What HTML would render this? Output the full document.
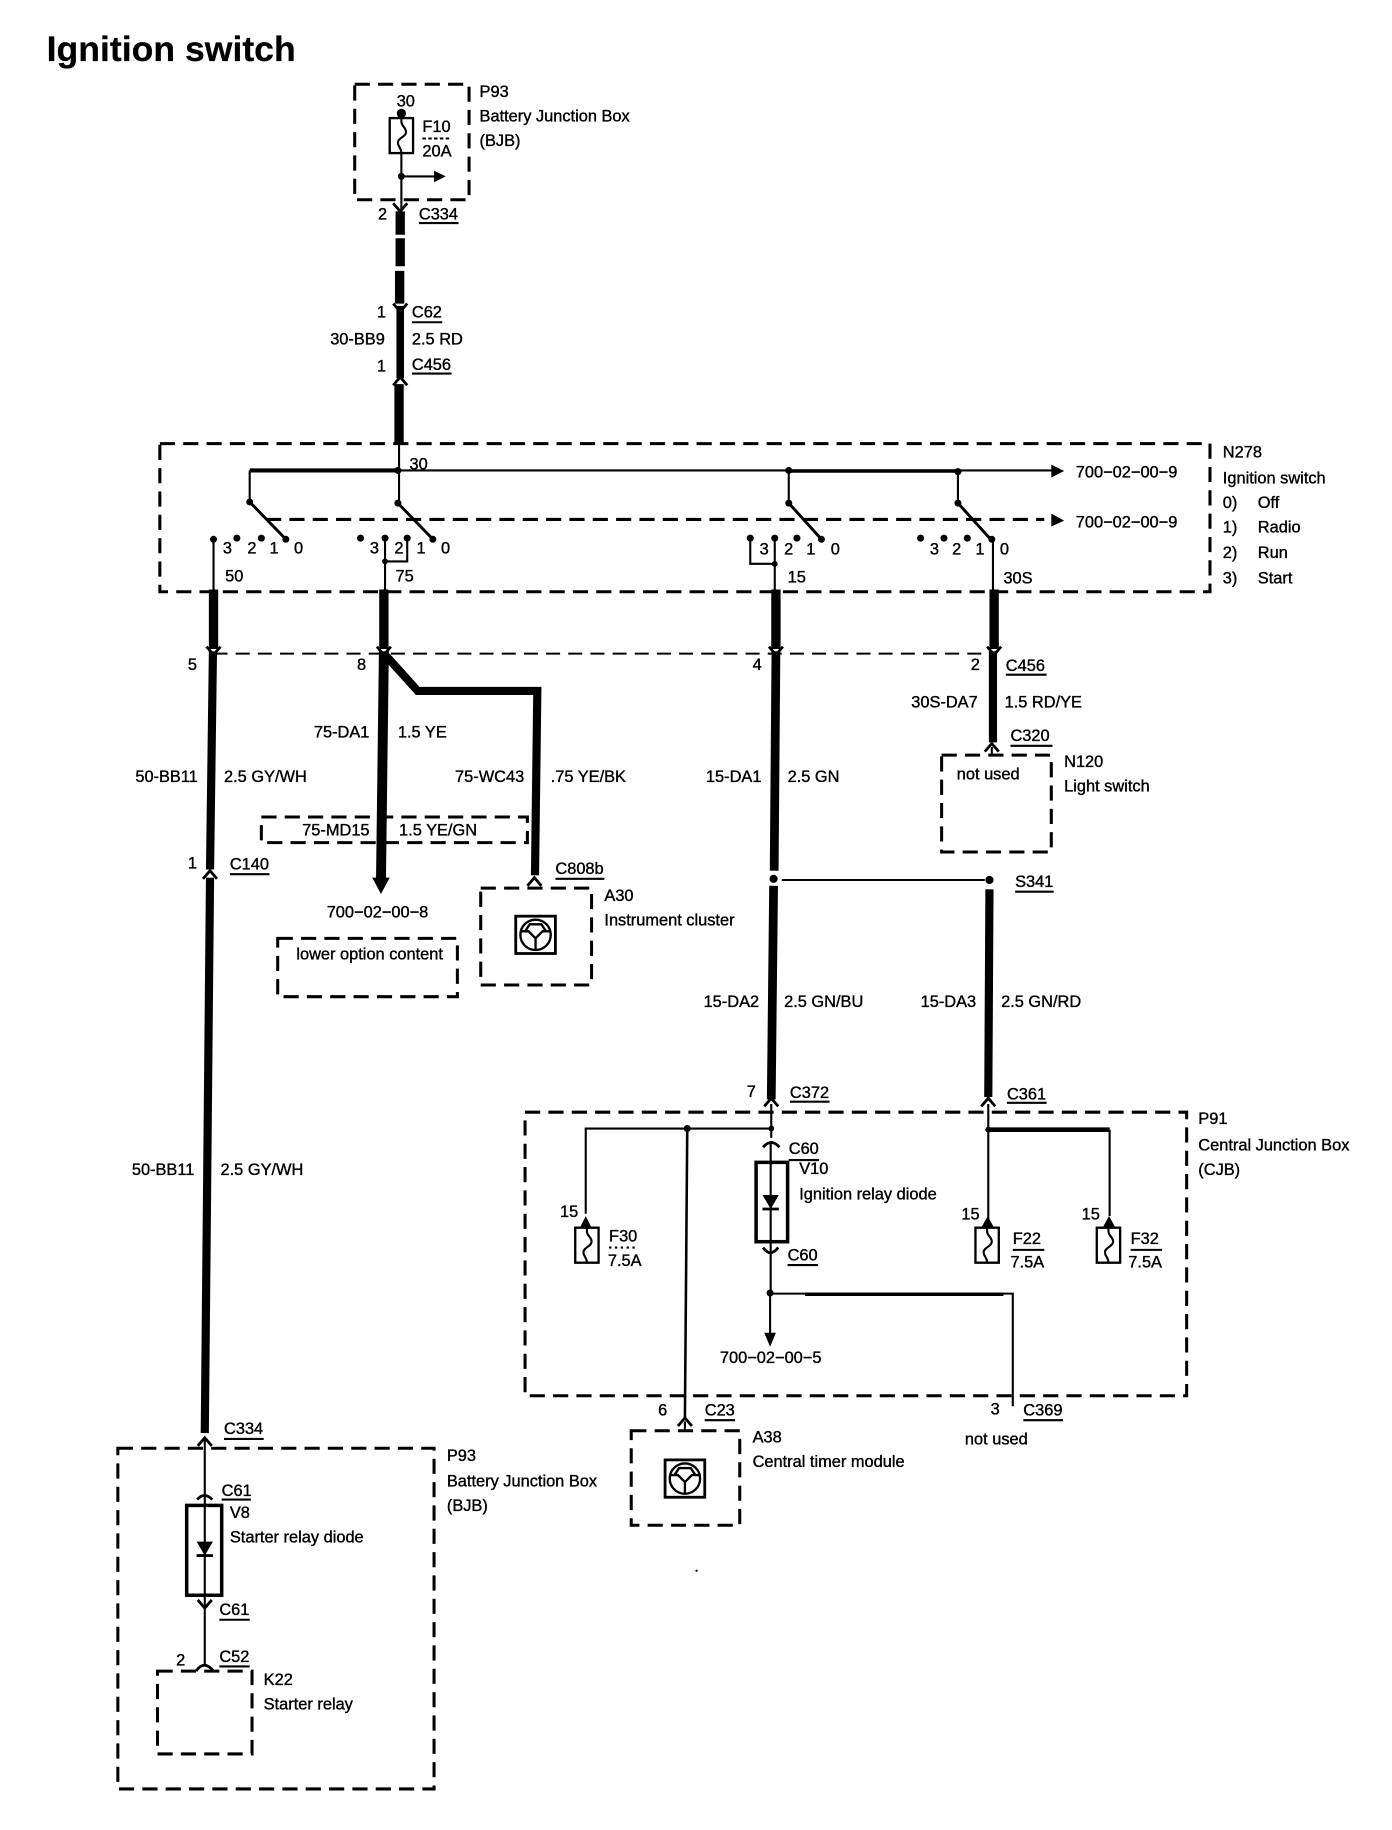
<!DOCTYPE html>
<html><head><meta charset="utf-8"><style>
html,body{margin:0;padding:0;background:#fff}
svg{display:block}
text{font-family:"Liberation Sans",sans-serif;font-size:14.05px;fill:#000;stroke:#000;stroke-width:.32}
.d{fill:none;stroke:#000;stroke-width:2.6;stroke-dasharray:13 7}
.t{fill:none;stroke:#000;stroke-width:1.8}
.w{fill:none;stroke:#000}
.f{fill:none;stroke:#000;stroke-width:2.4}
</style></head><body>
<svg width="1392" height="1830" viewBox="0 0 1193 1568" xmlns="http://www.w3.org/2000/svg">
<defs>
<g id="fd"><path d="M-6 -4L0 3L6 -4" class="f"/></g>
<g id="au"><path d="M-6 4L0 -3L6 4" class="f"/></g>
<g id="fuse"><rect x="-10" y="0" width="20" height="30" fill="#fff" stroke="#000" stroke-width="2"/><path d="M0 -6V3C0 7 4 8 4 12S-3 17 -3 21S0 25 0 30" class="t"/></g>
<g id="icon"><rect x="-17" y="-16" width="34" height="32" fill="none" stroke="#000" stroke-width="2.4"/><circle r="13" fill="none" stroke="#000" stroke-width="2"/><path d="M-12 -3H-6L0 3V13M12 -3H6L0 3M-9 -3L-5 -9H5L9 -3" fill="none" stroke="#000" stroke-width="2"/></g>
<g id="dio"><path d="M-7 -6H7L0 6Z" fill="#000"/><path d="M-7 6H7" class="f"/></g>
</defs>
<text x="40" y="52" style="font-size:30.5px;font-weight:bold;stroke-width:.2">Ignition switch</text>

<!-- top P93 -->
<rect x="304" y="72" width="98" height="99" class="d"/>
<text x="411" y="83">P93</text><text x="411" y="104">Battery Junction Box</text><text x="411" y="125">(BJB)</text>
<text x="340" y="91">30</text><circle cx="344" cy="97" r="4"/>
<path d="M344 97V180" class="t"/><use href="#fuse" x="344" y="101"/>
<text x="362" y="113">F10</text><path d="M362 118.500H386" class="t" stroke-dasharray="3 2"/><text x="362" y="134">20A</text>
<circle cx="344" cy="151" r="3"/><path d="M344 151H375" class="t"/><path d="M372 146L382 151L372 156Z"/>
<use href="#fd" x="343" y="178"/>
<text x="324" y="188">2</text><text x="359" y="188">C334</text><path d="M359 191H393" class="t"/>
<path d="M343 181V201M343 204V228M342.500 232V260" class="w" stroke-width="8"/>
<use href="#fd" x="343" y="264"/>
<text x="323" y="272">1</text><text x="353" y="272">C62</text><path d="M353 276H379" class="t"/>
<text x="283" y="295">30-BB9</text><text x="353" y="295">2.5 RD</text>
<text x="323" y="318">1</text><text x="353" y="317">C456</text><path d="M353 320H387" class="t"/>
<path d="M343 262V324" class="w" stroke-width="6.500"/><use href="#au" x="343" y="326"/>
<path d="M342 329V381" class="w" stroke-width="8"/>

<!-- N278 -->
<rect x="137" y="380" width="900" height="127" class="d"/>
<text x="1048" y="392">N278</text><text x="1048" y="414">Ignition switch</text>
<text x="1048" y="435">0)</text><text x="1078" y="435">Off</text>
<text x="1048" y="456">1)</text><text x="1078" y="456">Radio</text>
<text x="1048" y="478">2)</text><text x="1078" y="478">Run</text>
<text x="1048" y="500">3)</text><text x="1078" y="500">Start</text>
<text x="351" y="402">30</text>
<path d="M342 380V431" class="t"/><circle cx="341" cy="403" r="3"/>
<path d="M214 403H342" class="w" stroke-width="3.500"/><path d="M342 403H903" class="t"/><path d="M675 403.500H820" class="w" stroke-width="3"/>
<path d="M901 398L912 403.500L901 409Z"/><text x="922" y="409">700−02−00−9</text>
<path d="M228 445H895" class="d" stroke-width="2.200"/>
<path d="M901 440L912 446L901 451Z"/><text x="922" y="452">700−02−00−9</text>
<path d="M214 403V430M676 403V431M821 403V431" class="t"/>
<circle cx="676" cy="403" r="3"/><circle cx="821" cy="404" r="3"/>
<g class="w" stroke-width="2.500" fill="none"><path d="M214 430L245 462"/><path d="M341 431L371 462"/><path d="M676 431L704 462"/><path d="M821 431L849 462"/></g>
<g>
<circle cx="214" cy="430" r="3"/><circle cx="341" cy="431" r="3"/><circle cx="676" cy="431" r="3"/><circle cx="821" cy="431" r="3"/>
<circle cx="183" cy="462" r="3"/><circle cx="203" cy="461" r="3"/><circle cx="224" cy="461" r="3"/><circle cx="245" cy="462" r="3"/>
<circle cx="309" cy="461" r="3"/><circle cx="330" cy="461" r="3"/><circle cx="349" cy="461" r="3"/><circle cx="371" cy="462" r="3"/>
<circle cx="643" cy="461" r="3"/><circle cx="664" cy="461" r="3"/><circle cx="683" cy="461" r="3"/><circle cx="704" cy="462" r="3"/>
<circle cx="789" cy="461" r="3"/><circle cx="809" cy="461" r="3"/><circle cx="829" cy="461" r="3"/><circle cx="850" cy="462" r="3"/>
</g>
<text x="191" y="474">3</text><text x="212" y="474">2</text><text x="231" y="474">1</text><text x="252" y="474">0</text>
<text x="317" y="474">3</text><text x="338" y="474">2</text><text x="357" y="474">1</text><text x="378" y="474">0</text>
<text x="651" y="475">3</text><text x="672" y="475">2</text><text x="691" y="475">1</text><text x="712" y="475">0</text>
<text x="797" y="475">3</text><text x="816" y="475">2</text><text x="836" y="475">1</text><text x="857" y="475">0</text>
<text x="193" y="498">50</text><text x="339" y="498">75</text><text x="675" y="499">15</text><text x="860" y="500">30S</text>
<path d="M183 462V507M330 461V507M664 461V507M851 462V507M349 461V481H330M643 461V483H664" class="t"/><circle cx="330" cy="481" r="2.500"/><circle cx="664" cy="483" r="2.500"/>

<!-- main harness -->
<path d="M183 505V556M329 505V556M665 505V556M852 505V556" class="w" stroke-width="8"/>
<path d="M183 560H852" class="t" stroke-width="1.500" stroke-dasharray="12 7"/>
<use href="#fd" x="183" y="558"/><use href="#fd" x="329" y="558"/><use href="#fd" x="665" y="558"/><use href="#fd" x="852" y="558"/>
<text x="161" y="574">5</text><text x="306" y="574">8</text><text x="645" y="574">4</text><text x="832" y="574">2</text>
<text x="862" y="575">C456</text><path d="M862 578H897" class="t"/>

<path d="M182.500 558L180 745" class="w" stroke-width="7"/><use href="#au" x="180" y="749"/>
<path d="M180 752L175.500 1228" class="w" stroke-width="7"/>
<text x="161" y="744">1</text><text x="197" y="745">C140</text><path d="M197 749H231" class="t"/>
<text x="116" y="670">50-BB11</text><text x="192" y="670">2.5 GY/WH</text>
<text x="113" y="1007">50-BB11</text><text x="189" y="1007">2.5 GY/WH</text>

<path d="M329 558L326.500 755" class="w" stroke-width="8.500"/><path d="M319 752H334L326.500 766Z"/>
<path d="M331 562L358 592H460.500L458.500 750" class="w" stroke-width="7"/><use href="#au" x="458" y="755"/>
<text x="269" y="632">75-DA1</text><text x="341" y="632">1.5 YE</text>
<text x="390" y="670">75-WC43</text><text x="472" y="670">.75 YE/BK</text>
<rect x="224" y="700" width="228" height="22" class="d" stroke-width="2"/>
<text x="259" y="716">75-MD15</text><text x="342" y="716">1.5 YE/GN</text>
<text x="280" y="786">700−02−00−8</text>
<rect x="238" y="804" width="154" height="50" class="d" stroke-width="2"/><text x="254" y="822">lower option content</text>
<rect x="412" y="761" width="95" height="83" class="d"/><use href="#icon" x="459" y="801"/>
<text x="476" y="749">C808b</text><path d="M476 753H518" class="t"/>
<text x="518" y="772">A30</text><text x="518" y="793">Instrument cluster</text>

<path d="M665 558L663.500 746" class="w" stroke-width="7.500"/><circle cx="663" cy="753" r="3.500"/>
<path d="M663 759L661 942" class="w" stroke-width="7.500"/><use href="#au" x="661" y="944"/>
<text x="605" y="670">15-DA1</text><text x="675" y="670">2.5 GN</text>
<text x="603" y="863">15-DA2</text><text x="672" y="863">2.5 GN/BU</text>
<text x="640" y="940">7</text><text x="677" y="941">C372</text><path d="M677 944H711" class="t"/>
<path d="M670 754H844" class="t" stroke-width="1.500"/><circle cx="848" cy="754" r="3.500"/>
<text x="870" y="760">S341</text><path d="M870 764H903" class="t"/>
<path d="M848 762L847 940" class="w" stroke-width="7"/><use href="#au" x="847" y="944"/>
<text x="789" y="863">15-DA3</text><text x="858" y="863">2.5 GN/RD</text>
<text x="863" y="942">C361</text><path d="M863 945H897" class="t"/>

<path d="M851 558V636" class="w" stroke-width="7"/><use href="#au" x="850" y="640"/>
<text x="781" y="606">30S-DA7</text><text x="861" y="606">1.5 RD/YE</text>
<text x="866" y="635">C320</text><path d="M866 639H902" class="t"/>
<rect x="807" y="647" width="94" height="83" class="d" stroke-width="2.300"/>
<path d="M850 640V647" class="t"/>
<text x="820" y="668">not used</text><text x="912" y="657">N120</text><text x="912" y="678">Light switch</text>

<!-- P91 -->
<rect x="450" y="953" width="567" height="243" class="d"/>
<text x="1027" y="963">P91</text><text x="1027" y="986">Central Junction Box</text><text x="1027" y="1007">(CJB)</text>
<path d="M661 946V975M661 967H502V1040" class="t"/><circle cx="661" cy="967" r="2.500"/><circle cx="589" cy="967" r="3"/>
<path d="M497 1052L502 1042L507 1052Z"/><text x="480" y="1043">15</text>
<use href="#fuse" x="503" y="1052"/><text x="522" y="1064">F30</text><path d="M522 1069H546" class="t" stroke-dasharray="2 3"/><text x="521" y="1085">7.5A</text>
<path d="M589 967L587 1215" class="w" stroke-width="2.200"/><use href="#au" x="587" y="1218"/>
<path d="M654 983Q661 975 668 983" class="f"/><text x="676" y="989">C60</text><path d="M676 994H702" class="t"/>
<rect x="648" y="996" width="27" height="68" fill="none" stroke="#000" stroke-width="3"/>
<path d="M660.500 980V1108" class="t"/><use href="#dio" x="660.500" y="1030"/>
<text x="685" y="1006">V10</text><text x="685" y="1028">Ignition relay diode</text>
<path d="M654 1069Q660 1078 667 1069" class="f" stroke-width="2.500"/><text x="675" y="1080">C60</text><path d="M675 1084H701" class="t"/>
<circle cx="660" cy="1108" r="3"/><path d="M660 1108V1145" class="t"/><path d="M655 1142H665L660 1154Z"/>
<text x="617" y="1168">700−02−00−5</text>
<path d="M660 1108.500H868V1205" class="t"/><path d="M690 1109H860" class="w" stroke-width="3"/>
<text x="849" y="1212">3</text><text x="877" y="1213">C369</text><path d="M877 1217H911" class="t"/>
<text x="827" y="1238">not used</text>
<text x="564" y="1213">6</text><text x="604" y="1213">C23</text><path d="M604 1217H630" class="t"/>
<rect x="541" y="1226" width="93" height="81" class="d"/><path d="M587 1218V1226" class="t"/>
<use href="#icon" x="587" y="1267"/>
<text x="645" y="1236">A38</text><text x="645" y="1257">Central timer module</text>
<circle cx="597" cy="1346" r="1"/>
<path d="M847 946V1045" class="t"/><circle cx="847" cy="968" r="2.500"/>
<path d="M847 968H951" class="w" stroke-width="4"/><path d="M951 968V1042" class="t"/>
<path d="M841 1052L846.500 1042L852 1052Z"/><path d="M945 1052L950.500 1042L956 1052Z"/>
<text x="824" y="1045">15</text><text x="927" y="1045">15</text>
<use href="#fuse" x="846" y="1052"/><use href="#fuse" x="950" y="1052"/>
<text x="868" y="1066">F22</text><path d="M868 1071H895" class="t"/><text x="866" y="1086">7.5A</text>
<text x="969" y="1066">F32</text><path d="M969 1071H996" class="t"/><text x="967" y="1086">7.5A</text>

<!-- bottom P93 -->
<rect x="101" y="1241" width="271" height="292" class="d"/>
<text x="192" y="1229">C334</text><path d="M192 1233H226" class="t"/>
<text x="383" y="1252">P93</text><text x="383" y="1274">Battery Junction Box</text><text x="383" y="1295">(BJB)</text>
<use href="#au" x="175.500" y="1235"/>
<path d="M175.500 1232V1428" class="t"/>
<path d="M169 1285Q175 1278 182 1285" class="f"/>
<text x="190" y="1282">C61</text><path d="M190 1285H215" class="t"/>
<rect x="160" y="1290" width="30" height="77" fill="none" stroke="#000" stroke-width="3"/>
<use href="#dio" x="175.500" y="1327"/>
<text x="197" y="1301">V8</text><text x="197" y="1322">Starter relay diode</text>
<use href="#fd" x="175.500" y="1375"/>
<text x="188" y="1384">C61</text><path d="M188 1388H214" class="t"/>
<path d="M168 1432Q175 1422 183 1432" class="f"/>
<text x="151" y="1427">2</text><text x="188" y="1424">C52</text><path d="M188 1428H214" class="t"/>
<rect x="135" y="1432" width="81" height="71" class="d"/>
<text x="226" y="1444">K22</text><text x="226" y="1465">Starter relay</text>
</svg>
</body></html>
